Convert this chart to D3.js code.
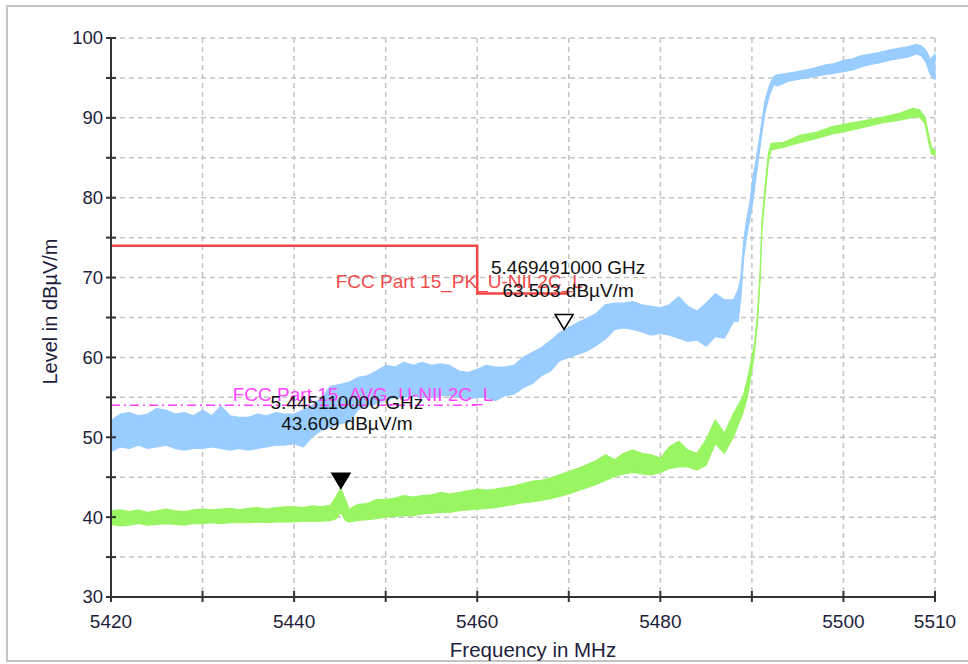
<!DOCTYPE html>
<html>
<head>
<meta charset="utf-8">
<script src="https://cdn.jsdelivr.net/npm/d3@7"></script>
<style>
  html, body { margin: 0; padding: 0; background: #fff; }
  svg { display: block; font-family: "Liberation Sans", Arial, sans-serif; }
</style>
</head>
<body>
<svg id="chart" width="968" height="664"></svg>
<script>
// ---------------- data ----------------
const xTickLabels = [5420, 5440, 5460, 5480, 5500, 5510];
const yTickLabels = [30, 40, 50, 60, 70, 80, 90, 100];

// Peak trace (light blue): frequency (MHz), lower and upper envelope (dBµV/m)
const peakFreq = [5420,5421,5422,5423,5424,5425,5426,5427,5428,5429,5430,5431,5432,5433,5434,5435,5436,5437,5438,5439,
  5440,5441,5442,5443,5444,5445,5446,5447,5448,5449,5450,5451,5452,5453,5454,5455,5456,5457,5458,5459,
  5460,5461,5462,5463,5464,5465,5466,5467,5468,5469,5470,5471,5472,5473,5474,5475,5476,5477,5478,5479,
  5480,5481,5482,5483,5484,5485,5486,5487,5488,5488.5,5488.8,5489.1,5489.4,5489.8,5490.1,5490.5,5490.9,5491.4,5491.9,5492.4,
  5492.8,5494,5495,5496,5497,5498,5499,5500,5501,5502,5503,5504,5505,5506,5507,5508,5508.5,5509,5509.5,5510];
const peakLow = [48.2,48.8,48.6,49.0,48.6,48.8,49.0,48.6,48.4,48.6,48.6,48.8,48.6,48.4,48.6,48.4,48.6,48.8,49.0,49.0,
  49.2,48.8,50.1,50.9,51.3,51.7,51.9,53.5,54.0,54.2,54.6,55.0,55.0,55.2,55.0,55.0,55.2,55.2,55.0,54.8,
  55.0,55.0,54.6,55.2,55.4,56.2,56.7,57.7,58.3,59.6,60.0,60.4,60.8,61.5,62.3,63.5,63.7,63.5,63.2,62.8,
  63.0,62.8,62.4,62.0,62.2,61.4,62.6,62.4,64.5,64.5,67.5,72.5,75.0,77.5,79.5,83.0,86.5,90.5,92.8,94.2,
  94.0,94.6,94.8,95.0,95.2,95.4,95.6,95.8,96.0,96.4,96.7,96.9,97.2,97.4,97.6,98.0,97.8,97.0,95.4,94.8];
const peakHigh = [52.1,52.9,53.1,52.7,52.9,53.6,53.4,52.9,53.1,52.7,53.4,52.7,53.9,52.7,52.5,52.5,52.9,52.7,53.1,52.9,
  52.9,53.4,54.0,55.0,56.4,56.6,56.9,57.5,57.7,58.3,59.0,58.8,59.4,59.0,59.4,59.0,59.2,59.0,58.3,58.1,
  58.5,59.0,58.8,58.8,59.0,60.0,60.6,61.2,62.1,63.1,63.7,64.4,64.9,65.5,66.6,66.8,66.8,67.0,66.6,66.4,
  66.2,66.6,67.6,66.4,65.8,66.8,68.0,67.2,67.2,68.5,70.0,74.5,77.0,79.5,82.5,85.0,88.0,92.0,94.0,95.2,
  95.4,95.6,95.8,96.0,96.3,96.6,96.8,97.2,97.4,97.8,98.0,98.2,98.5,98.7,98.9,99.2,99.0,98.5,97.3,98.0];

// Average trace (light green)
const avgFreq = [5420,5421,5422,5423,5424,5425,5426,5427,5428,5429,5430,5431,5432,5433,5434,5435,5436,5437,5438,5439,
  5440,5441,5442,5443,5444,5444.6,5445.1,5445.6,5446,5447,5448,5449,5450,5451,5452,5453,5454,5455,5456,5457,
  5458,5459,5460,5461,5462,5463,5464,5465,5466,5467,5468,5469,5470,5471,5472,5473,5474,5475,5476,5477,
  5478,5479,5480,5481,5482,5483,5484,5485,5486,5487,5488,5489,5489.5,5490,5490.3,5490.6,5490.9,5491.1,5491.4,5491.8,
  5492.1,5493.4,5495.2,5497,5498.8,5500.6,5502.5,5504.3,5506.2,5507.6,5508.3,5508.9,5509.2,5509.6,5510];
const avgLow = [39.1,38.9,39.0,39.2,39.0,39.1,39.2,39.1,39.0,39.2,39.2,39.3,39.2,39.3,39.3,39.3,39.4,39.3,39.4,39.4,
  39.4,39.5,39.5,39.5,39.6,39.8,40.6,39.6,39.4,39.6,39.7,39.8,40.0,40.1,40.2,40.2,40.4,40.5,40.6,40.6,
  40.8,40.9,41.0,41.1,41.2,41.4,41.6,41.8,41.9,42.1,42.3,42.6,42.9,43.3,43.7,44.1,44.6,45.1,45.4,45.6,
  45.4,45.3,45.6,46.1,46.3,46.3,45.9,46.5,49.2,48.0,50.1,53.0,55.0,58.4,60.8,64.2,69.8,76.0,79.9,84.5,
  86.0,86.3,86.9,87.4,88.0,88.4,88.9,89.4,89.7,90.1,90.1,89.3,87.6,85.5,85.3];
const avgHigh = [40.8,40.9,40.7,40.9,40.6,40.8,41.0,40.8,40.7,40.9,41.0,40.9,41.0,41.1,40.9,41.1,41.2,41.0,41.2,41.3,
  41.3,41.2,41.4,41.3,41.5,42.6,43.6,42.2,41.0,41.6,41.7,42.2,42.2,42.4,42.7,42.5,42.7,42.8,43.1,42.9,
  43.1,43.3,43.5,43.4,43.5,43.7,43.9,44.2,44.5,44.6,44.9,45.3,45.7,46.1,46.6,47.1,47.8,47.2,48.0,48.4,
  48.0,47.8,47.4,48.8,49.5,48.4,48.0,49.7,52.2,50.5,53.0,55.0,57.2,60.0,61.8,65.2,70.8,77.0,80.9,85.5,
  86.8,86.9,87.8,88.2,88.9,89.3,89.7,90.1,90.6,91.2,91.0,90.1,88.4,86.3,85.9];

// Limit lines
const pkLimitFreq = [5420, 5460, 5460, 5470];
const pkLimitLevel = [74, 74, 68, 68];
const avgLimitFreq = [5420, 5460];
const avgLimitLevel = [54, 54];
const limitNames = ["FCC Part 15_PK_U-NII 2C_L", "FCC Part 15_AVG_U-NII 2C_L"];

// Markers
const markerFreq = [5445.11, 5469.491];
const markerLevel = [43.609, 63.503];
const markerFreqText = ["5.445110000 GHz", "5.469491000 GHz"];
const markerLevelText = ["43.609 dBµV/m", "63.503 dBµV/m"];

// ---------------- drawing ----------------
const svg = d3.select("#chart");
const W = 968, H = 664;
const plot = { left: 111, right: 935, top: 38, bottom: 597 };

const x = d3.scaleLinear().domain([5420, 5510]).range([plot.left, plot.right]);
const y = d3.scaleLinear().domain([30, 100]).range([plot.bottom, plot.top]);

// outer frame
svg.append("rect").attr("x", 7).attr("y", 6).attr("width", W).attr("height", 655)
  .attr("fill", "none").attr("stroke", "#c4c4c4").attr("stroke-width", 2);

// grid
const gridColor = "#c3c3c3";
const gx = d3.range(5430, 5511, 10);
const gy = d3.range(35, 101, 5);
svg.append("g").selectAll("line").data(gx).join("line")
  .attr("x1", d => x(d)).attr("x2", d => x(d))
  .attr("y1", plot.top).attr("y2", plot.bottom)
  .attr("stroke", gridColor).attr("stroke-width", 1.5).attr("stroke-dasharray", "5,4");
svg.append("g").selectAll("line").data(gy).join("line")
  .attr("x1", plot.left).attr("x2", plot.right)
  .attr("y1", d => y(d)).attr("y2", d => y(d))
  .attr("stroke", gridColor).attr("stroke-width", 1.5).attr("stroke-dasharray", "5,4");

// traces as min/max bands
function band(freqs, lo, hi, color) {
  const rows = freqs.map((f, i) => ({ f, lo: lo[i], hi: hi[i] }));
  const area = d3.area().x(d => x(d.f)).y0(d => y(d.lo)).y1(d => y(d.hi));
  svg.append("path").datum(rows).attr("d", area)
    .attr("fill", color).attr("stroke", color).attr("stroke-width", 1.2).attr("stroke-linejoin", "round");
}
band(peakFreq, peakLow, peakHigh, "#99ccff");
band(avgFreq, avgLow, avgHigh, "#99f562");

// limit lines
const lineGen = d3.line().x(d => x(d[0])).y(d => y(d[1]));
const pkPts = pkLimitFreq.map((f, i) => [f, pkLimitLevel[i]]);
const avPts = avgLimitFreq.map((f, i) => [f, avgLimitLevel[i]]);
svg.append("path").datum(avPts).attr("d", lineGen).attr("fill", "none")
  .attr("stroke", "#ff40ff").attr("stroke-width", 1.5).attr("stroke-dasharray", "9,4,2,4");
svg.append("path").datum(pkPts).attr("d", lineGen).attr("fill", "none")
  .attr("stroke", "#f44646").attr("stroke-width", 2.5);

// limit labels
svg.append("text").attr("x", x(pkLimitFreq[pkLimitFreq.length - 1]) + 14)
  .attr("y", y(pkLimitLevel[pkLimitLevel.length - 1]) - 12)
  .attr("text-anchor", "end").attr("dominant-baseline", "central")
  .attr("font-size", 19).attr("fill", "#f04c4c").text(limitNames[0]);
svg.append("text").attr("x", x(avgLimitFreq[avgLimitFreq.length - 1]) + 16)
  .attr("y", y(avgLimitLevel[avgLimitLevel.length - 1]) - 11)
  .attr("text-anchor", "end").attr("dominant-baseline", "central")
  .attr("font-size", 19).attr("fill", "#ff44ff").text(limitNames[1]);

// axes
const axisColor = "#333";
const ax = svg.append("g");
ax.append("line").attr("x1", plot.left).attr("x2", plot.left).attr("y1", plot.top).attr("y2", plot.bottom)
  .attr("stroke", axisColor).attr("stroke-width", 2);
ax.append("line").attr("x1", plot.left).attr("x2", plot.right).attr("y1", plot.bottom).attr("y2", plot.bottom)
  .attr("stroke", axisColor).attr("stroke-width", 2);
ax.selectAll(".yt").data(d3.range(30, 101, 5)).join("line")
  .attr("x1", plot.left - 5).attr("x2", plot.left + 5)
  .attr("y1", d => y(d)).attr("y2", d => y(d)).attr("stroke", axisColor).attr("stroke-width", 2);
ax.selectAll(".xt").data(d3.range(5420, 5511, 10)).join("line")
  .attr("y1", plot.bottom - 6).attr("y2", plot.bottom + 5)
  .attr("x1", d => x(d)).attr("x2", d => x(d)).attr("stroke", axisColor).attr("stroke-width", 2);

const tickColor = "#1e1e3c";
ax.selectAll(".yl").data(yTickLabels).join("text")
  .attr("x", plot.left - 8).attr("y", d => y(d)).attr("dy", "0.35em")
  .attr("text-anchor", "end").attr("font-size", 18.5).attr("fill", tickColor).text(d => d);
ax.selectAll(".xl").data(xTickLabels).join("text")
  .attr("x", d => x(d)).attr("y", plot.bottom + 31)
  .attr("text-anchor", "middle").attr("font-size", 19).attr("fill", tickColor).text(d => d);

svg.append("text").attr("x", 533).attr("y", 657).attr("text-anchor", "middle")
  .attr("font-size", 20.5).attr("fill", tickColor).text("Frequency in MHz");
svg.append("text").attr("transform", `translate(57,${(plot.top + plot.bottom) / 2 - 6}) rotate(-90)`)
  .attr("text-anchor", "middle").attr("font-size", 20).attr("fill", tickColor).text("Level in dBµV/m");

// markers
const tri = (cx, cy) => `M${cx - 9},${cy - 15}L${cx + 9},${cy - 15}L${cx},${cy}Z`;
const labelDx = [6, 4];
const labelDy = [[-86, -65], [-62, -39]];
markerFreq.forEach((f, i) => {
  const mx = x(f), my = y(markerLevel[i]);
  svg.append("path").attr("d", tri(mx, my))
    .attr("fill", i === 0 ? "#000" : "#fff").attr("stroke", "#000").attr("stroke-width", 1.5);
  svg.append("text").attr("x", mx + labelDx[i]).attr("y", my + labelDy[i][0])
    .attr("text-anchor", "middle").attr("dominant-baseline", "central")
    .attr("font-size", 19).attr("fill", "#111").text(markerFreqText[i]);
  svg.append("text").attr("x", mx + labelDx[i]).attr("y", my + labelDy[i][1])
    .attr("text-anchor", "middle").attr("dominant-baseline", "central")
    .attr("font-size", 19).attr("fill", "#111").text(markerLevelText[i]);
});
</script>
</body>
</html>
